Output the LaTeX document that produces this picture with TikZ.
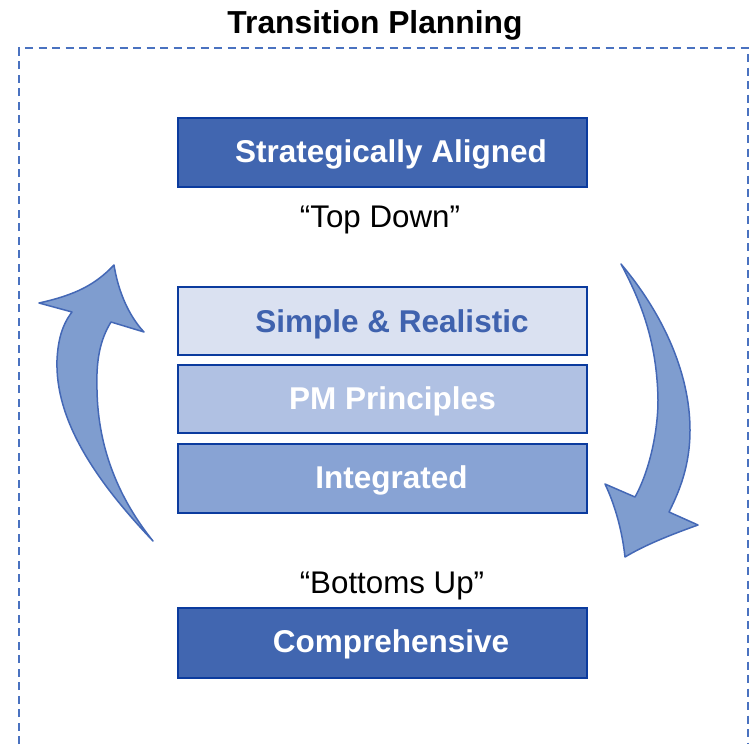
\documentclass[tikz,border=0pt]{standalone}
\usepackage{fontspec}
\setmainfont{Liberation Sans}
\begin{document}
\begin{tikzpicture}[x=1pt,y=-1pt,
  boxbase/.style={draw=boxedge, line width=2.4pt, minimum width=409pt, inner sep=0pt},
  boxlabel/.style={anchor=base, font=\fontsize{31.5}{36}\selectfont\bfseries, inner sep=0pt},
  plain/.style={anchor=base, font=\fontsize{31.3}{36}\selectfont, inner sep=0pt},
  bigarrow/.style={fill=arrowfill, draw=arrowedge, line width=1.5pt, line join=round}]
\definecolor{boxedge}{HTML}{0B3B9E}
\definecolor{darkfill}{HTML}{4166B0}
\definecolor{lightA}{HTML}{DAE1F1}
\definecolor{lightB}{HTML}{B0C1E3}
\definecolor{lightC}{HTML}{88A3D4}
\definecolor{softtext}{HTML}{3F62AE}
\definecolor{arrowfill}{HTML}{7F9DCF}
\definecolor{arrowedge}{HTML}{4468B6}
\definecolor{frame}{HTML}{4A72C0}
\useasboundingbox (0,0) rectangle (752,744);

% open dashed frame
\draw[frame, line width=2pt, dash pattern=on 8pt off 5.5pt] (19,744) -- (19,48) -- (748,48) -- (748,744);

% title
\node[anchor=base, font=\fontsize{31.8}{36}\selectfont\bfseries, inner sep=0pt] (title) at (375,33) {Transition Planning};

% stacked boxes
\node[boxbase, fill=darkfill, minimum height=69pt] (sa) at (382.5,152.5) {};
\node[boxbase, fill=lightA, minimum height=68pt] (sr) at (382.5,321) {};
\node[boxbase, fill=lightB, minimum height=68pt] (pm) at (382.5,399) {};
\node[boxbase, fill=lightC, minimum height=69pt] (ig) at (382.5,478.5) {};
\node[boxbase, fill=darkfill, minimum height=70pt] (co) at (382.5,643) {};

\node[boxlabel, text=white] (saText) at (391,162) {Strategically Aligned};
\node[boxlabel, text=softtext] (srText) at (392,332) {Simple \& Realistic};
\node[boxlabel, text=white] (pmText) at (392.5,409) {PM Principles};
\node[boxlabel, text=white] (igText) at (391.5,488) {Integrated};
\node[boxlabel, text=white] (coText) at (391,652) {Comprehensive};

\node[plain] (topdown) at (380,227) {``Top Down''};
\node[plain] (bottomsup) at (392,593) {``Bottoms Up''};

% curved arrow on the left, pointing up
\draw[bigarrow] (153,541) .. controls (95,480) and (55,420) .. (57,360)
  .. controls (58,340) and (62,325) .. (72,312) -- (39,303)
  .. controls (75,295) and (95,285) .. (114,265)
  .. controls (118,290) and (128,315) .. (144,332) -- (111,322)
  .. controls (100,340) and (96,360) .. (97,390)
  .. controls (98,450) and (120,500) .. (153,541) -- cycle;

% curved arrow on the right, pointing down
\draw[bigarrow] (621,264) .. controls (660,310) and (690,370) .. (690,430)
  .. controls (690,465) and (680,490) .. (669,512) -- (698,525)
  .. controls (670,535) and (645,545) .. (625,557)
  .. controls (622,530) and (615,505) .. (605,484) -- (635,497)
  .. controls (650,470) and (658,430) .. (658,400)
  .. controls (657,340) and (640,300) .. (621,264) -- cycle;
\end{tikzpicture}
\end{document}
